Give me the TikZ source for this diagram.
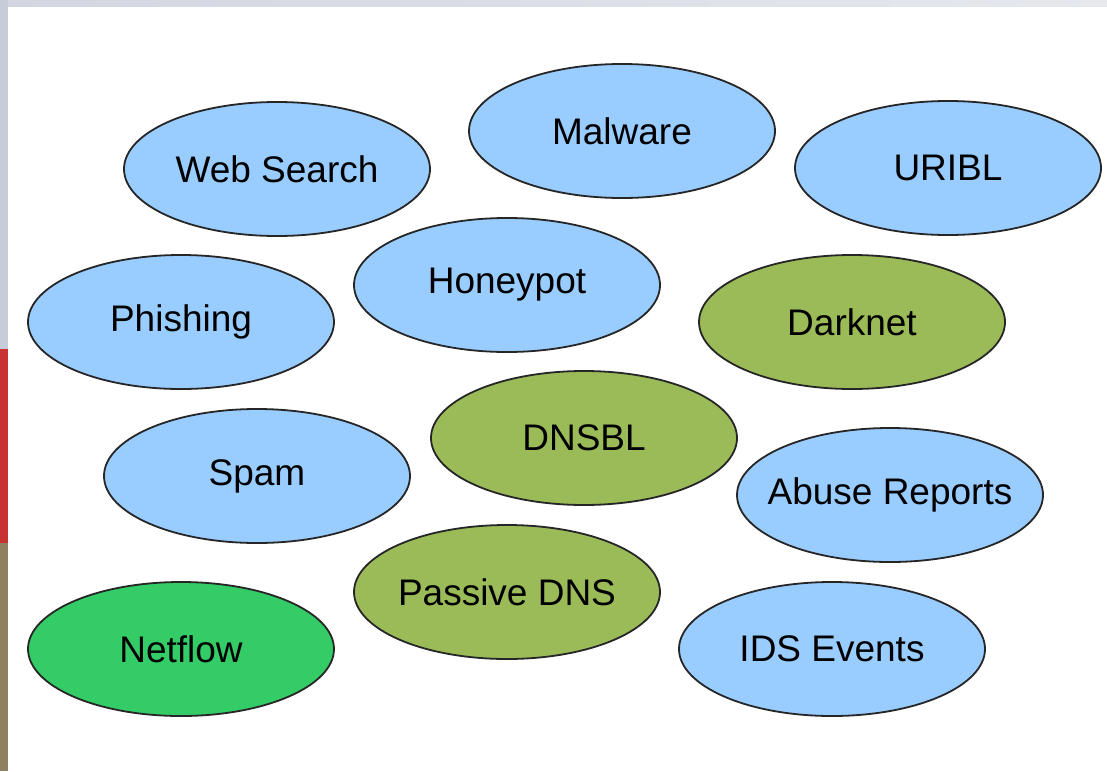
\documentclass[tikz,border=0pt]{standalone}
\usepackage{fontspec}
\setmainfont{Liberation Sans}
\usetikzlibrary{shapes.geometric}
\definecolor{bluefill}{HTML}{99CCFF}
\definecolor{olivefill}{HTML}{9BBB59}
\definecolor{greenfill}{HTML}{33CC66}
\definecolor{topgray}{HTML}{D2D6E0}
\definecolor{topgraylight}{HTML}{E6E8EE}
\definecolor{leftgray}{HTML}{C8CCD8}
\definecolor{leftred}{HTML}{C83232}
\definecolor{leftbrown}{HTML}{8F8060}
\newcommand{\ctxt}[1]{\makebox[0pt][c]{#1}}
\tikzset{
  blob/.style={ellipse, draw=black!85, line width=1.8pt, minimum width=306pt, minimum height=134pt, inner sep=0pt, font=\fontsize{37}{42}\selectfont},
  bluebl/.style={blob, fill=bluefill},
  olivebl/.style={blob, fill=olivefill},
  greenbl/.style={blob, fill=greenfill}
}
\begin{document}
\begin{tikzpicture}[x=1pt,y=-1pt]
\useasboundingbox (0,0) rectangle (1107,771);
\fill[white] (0,0) rectangle (1107,771);
\shade[left color=topgray, right color=topgraylight] (0,0) rectangle (1107,6);
\fill[leftgray] (0,0) rectangle (8,349);
\fill[leftred] (0,349) rectangle (8,543);
\fill[leftbrown] (0,543) rectangle (8,771);
\node[bluebl] (web) at (277,169) {\ctxt{Web Search}};
\node[bluebl] (malware) at (622,131) {\ctxt{Malware}};
\node[bluebl] (uribl) at (948,168) {\ctxt{URIBL}};
\node[bluebl] (phishing) at (181,322) {\ctxt{Phishing}};
\node[bluebl] (honeypot) at (507,285) {\ctxt{Honeypot}};
\node[olivebl] (darknet) at (852,322) {\ctxt{Darknet}};
\node[olivebl] (dnsbl) at (584,438) {\ctxt{DNSBL}};
\node[bluebl] (spam) at (257,476) {\ctxt{Spam}};
\node[bluebl] (abuse) at (890,495) {\ctxt{Abuse Reports}};
\node[olivebl] (pdns) at (507,592) {\ctxt{Passive DNS}};
\node[greenbl] (netflow) at (181,649) {\ctxt{Netflow}};
\node[bluebl] (ids) at (832,649) {\ctxt{IDS Events}};
\end{tikzpicture}
\end{document}
